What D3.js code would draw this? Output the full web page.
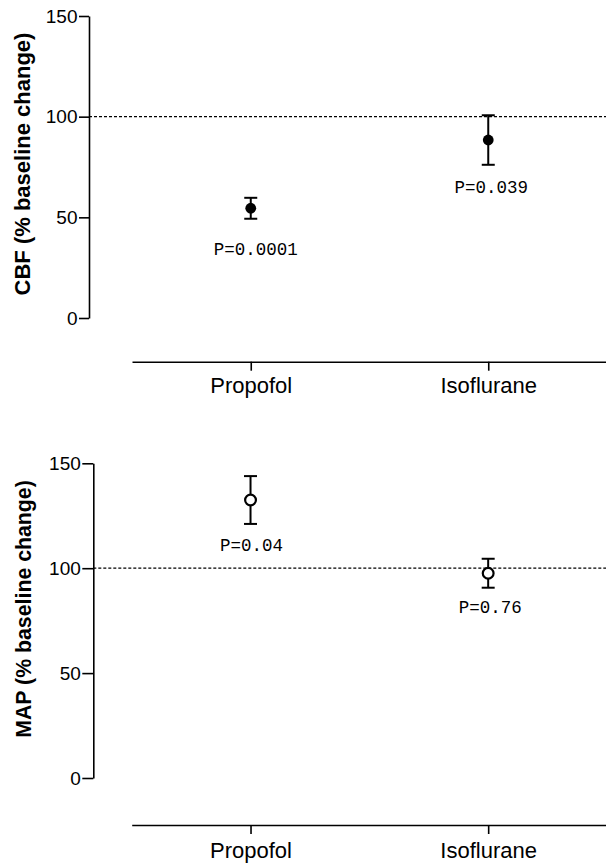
<!DOCTYPE html>
<html>
<head>
<meta charset="utf-8">
<script src="https://cdn.jsdelivr.net/npm/d3@7"></script>
<style>
  html, body { margin: 0; padding: 0; background: #fff; }
  svg { display: block; }
</style>
</head>
<body>
<svg id="chart" width="606" height="865"></svg>
<script>
// ---------------- DATA ----------------
const categories = ["Propofol", "Isoflurane"];
const yTickValues = [0, 50, 100, 150];
const referenceLevel = 100;

const cbfMeans = [54.5, 88.4];
const cbfErrors = [5.2, 12.3];
const cbfPLabels = ["P=0.0001", "P=0.039"];

const mapMeans = [132.5, 97.6];
const mapErrors = [11.4, 6.9];
const mapPLabels = ["P=0.04", "P=0.76"];

const cbfTitle = "CBF (% baseline change)";
const mapTitle = "MAP (% baseline change)";

// ---------------- LAYOUT ----------------
const panels = [
  {
    title: cbfTitle, means: cbfMeans, errors: cbfErrors, pLabels: cbfPLabels,
    filled: true,
    yRange: [318, 16], yAxisX: 89, yTickSize: 10,
    xAxisY: 361.7, xRange: [132, 607], xTickSize: 9, xTickPad: 7,
    titleX: 30, titleY: 164, titleSize: 22,
    pDy: [36, 28], pDx: [5, 3]
  },
  {
    title: mapTitle, means: mapMeans, errors: mapErrors, pLabels: mapPLabels,
    filled: false,
    yRange: [778, 463.3], yAxisX: 93.3, yTickSize: 11,
    xAxisY: 825, xRange: [131.7, 607], xTickSize: 9, xTickPad: 8.4,
    titleX: 31, titleY: 609, titleSize: 21.3,
    pDy: [27.4, 25.7], pDx: [1, 2]
  }
];

const svg = d3.select("#chart");
const sans = "'Liberation Sans', Arial, sans-serif";
const mono = "'Liberation Mono', 'Courier New', monospace";

panels.forEach(p => {
  const y = d3.scaleLinear().domain([0, 150]).range(p.yRange);
  const x = d3.scalePoint().domain(categories).range(p.xRange).padding(0.5);

  // y axis
  const gy = svg.append("g")
    .attr("transform", `translate(${p.yAxisX},0)`)
    .call(d3.axisLeft(y).tickValues(yTickValues).tickFormat(d3.format("d"))
      .tickSize(p.yTickSize).tickSizeOuter(0).tickPadding(1.5));
  gy.select(".domain").attr("stroke", "#000").attr("stroke-width", 1.6);
  gy.selectAll(".tick line").attr("stroke", "#000").attr("stroke-width", 1.6);
  gy.selectAll(".tick text").attr("font-family", sans).attr("font-size", 19).attr("fill", "#000");

  // x axis
  const gx = svg.append("g")
    .attr("transform", `translate(0,${p.xAxisY})`)
    .call(d3.axisBottom(x).tickSize(p.xTickSize).tickSizeOuter(0).tickPadding(p.xTickPad));
  gx.select(".domain").attr("stroke", "#000").attr("stroke-width", 1.6);
  gx.selectAll(".tick line").attr("stroke", "#000").attr("stroke-width", 1.6);
  gx.selectAll(".tick text").attr("font-family", sans).attr("font-size", 22).attr("fill", "#000");

  // reference dashed line
  svg.append("line")
    .attr("x1", p.yAxisX).attr("x2", 606)
    .attr("y1", y(referenceLevel)).attr("y2", y(referenceLevel))
    .attr("stroke", "#000").attr("stroke-width", 1.3)
    .attr("stroke-dasharray", "3,2");

  // y title
  svg.append("text")
    .attr("transform", `translate(${p.titleX},${p.titleY}) rotate(-90)`)
    .attr("text-anchor", "middle")
    .attr("font-family", sans).attr("font-weight", "bold")
    .attr("font-size", p.titleSize).attr("fill", "#000")
    .text(p.title);

  // error bars + points
  const data = categories.map((c, i) => ({ c, m: p.means[i], e: p.errors[i], lab: p.pLabels[i], i }));
  const g = svg.append("g");
  const capW = 6.5;
  data.forEach(d => {
    const cx = x(d.c);
    const top = y(d.m + d.e), bot = y(d.m - d.e);
    g.append("line").attr("x1", cx).attr("x2", cx).attr("y1", top).attr("y2", bot)
      .attr("stroke", "#000").attr("stroke-width", 2);
    [top, bot].forEach(yy => {
      g.append("line").attr("x1", cx - capW).attr("x2", cx + capW).attr("y1", yy).attr("y2", yy)
        .attr("stroke", "#000").attr("stroke-width", 2);
    });
    if (p.filled) {
      g.append("circle").attr("cx", cx).attr("cy", y(d.m)).attr("r", 5.4).attr("fill", "#000");
    } else {
      g.append("circle").attr("cx", cx).attr("cy", y(d.m)).attr("r", 5.4)
        .attr("fill", "#fff").attr("stroke", "#000").attr("stroke-width", 2.2);
    }
    g.append("text")
      .attr("x", cx + p.pDx[d.i]).attr("y", bot + p.pDy[d.i])
      .attr("text-anchor", "middle")
      .attr("font-family", mono).attr("font-size", 17.5).attr("fill", "#000")
      .text(d.lab);
  });
});
</script>
</body>
</html>
